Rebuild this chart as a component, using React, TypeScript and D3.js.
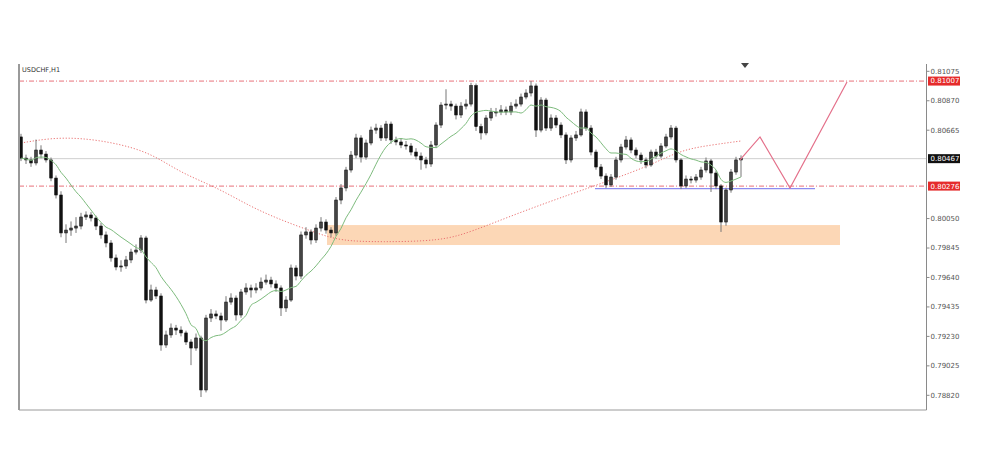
import React from "react";
import * as d3 from "d3";

// ---- data (prices) ----
const firstOpen = 0.80618;
const closes = [
  0.80471, 0.80458, 0.80437, 0.80527, 0.80499, 0.80458, 0.80332, 0.80214, 0.79950, 0.79970,
  0.79984, 0.79998, 0.80061, 0.80075, 0.80054, 0.79998, 0.79936, 0.79880, 0.79776, 0.79713,
  0.79720, 0.79762, 0.79817, 0.79831, 0.79915, 0.79483, 0.79553, 0.79511, 0.79170, 0.79240,
  0.79288, 0.79274, 0.79254, 0.79191, 0.79149, 0.79219, 0.78857, 0.79358, 0.79386, 0.79372,
  0.79344, 0.79469, 0.79497, 0.79379, 0.79539, 0.79567, 0.79553, 0.79567, 0.79608, 0.79622,
  0.79595, 0.79567, 0.79428, 0.79483, 0.79706, 0.79650, 0.79936, 0.79957, 0.79901, 0.79984,
  0.80026, 0.79970, 0.79950, 0.80179, 0.80263, 0.80388, 0.80492, 0.80611, 0.80478, 0.80576,
  0.80666, 0.80680, 0.80611, 0.80708, 0.80597, 0.80583, 0.80562, 0.80555, 0.80513, 0.80485,
  0.80458, 0.80430, 0.80562, 0.80701, 0.80840, 0.80847, 0.80833, 0.80771, 0.80833, 0.80847,
  0.80975, 0.80690, 0.80646, 0.80750, 0.80792, 0.80792, 0.80806, 0.80792, 0.80833, 0.80847,
  0.80896, 0.80924, 0.80973, 0.80666, 0.80875, 0.80680, 0.80750, 0.80701, 0.80632, 0.80458,
  0.80611, 0.80632, 0.80792, 0.80680, 0.80513, 0.80409, 0.80346, 0.80284, 0.80339, 0.80458,
  0.80548, 0.80597, 0.80527, 0.80492, 0.80458, 0.80423, 0.80513, 0.80485, 0.80555, 0.80618,
  0.80680, 0.80458, 0.80277, 0.80325, 0.80318, 0.80339, 0.80388, 0.80451, 0.80367, 0.80277,
  0.80026, 0.80249, 0.80374, 0.80458, 0.80467,
];
const highs = [
  0.80640, 0.80495, 0.80480, 0.80600, 0.80560, 0.80520, 0.80475, 0.80350, 0.80240, 0.80010,
  0.80030, 0.80060, 0.80090, 0.80100, 0.80095, 0.80070, 0.80020, 0.79960, 0.79900, 0.79800,
  0.79760, 0.79790, 0.79840, 0.79870, 0.79935, 0.79930, 0.79590, 0.79575, 0.79530, 0.79270,
  0.79320, 0.79310, 0.79300, 0.79270, 0.79210, 0.79250, 0.79235, 0.79380, 0.79420, 0.79410,
  0.79395, 0.79510, 0.79530, 0.79515, 0.79560, 0.79600, 0.79590, 0.79600, 0.79640, 0.79660,
  0.79645, 0.79620, 0.79585, 0.79510, 0.79730, 0.79725, 0.79960, 0.79990, 0.79975, 0.80010,
  0.80060, 0.80045, 0.79990, 0.80200, 0.80290, 0.80410, 0.80520, 0.80640, 0.80630, 0.80600,
  0.80690, 0.80710, 0.80700, 0.80730, 0.80725, 0.80620, 0.80610, 0.80590, 0.80575, 0.80540,
  0.80510, 0.80480, 0.80590, 0.80720, 0.80860, 0.80950, 0.80870, 0.80850, 0.80860, 0.80880,
  0.80995, 0.80990, 0.80710, 0.80770, 0.80820, 0.80820, 0.80840, 0.80830, 0.80860, 0.80880,
  0.80920, 0.80950, 0.81007, 0.80990, 0.80895, 0.80890, 0.80775, 0.80770, 0.80720, 0.80650,
  0.80630, 0.80660, 0.80815, 0.80810, 0.80700, 0.80530, 0.80430, 0.80365, 0.80360, 0.80480,
  0.80570, 0.80625, 0.80615, 0.80545, 0.80510, 0.80475, 0.80530, 0.80535, 0.80575, 0.80640,
  0.80701, 0.80695, 0.80470, 0.80350, 0.80345, 0.80360, 0.80410, 0.80475, 0.80465, 0.80385,
  0.80290, 0.80265, 0.80395, 0.80480, 0.80490,
];
const lows = [
  0.80450, 0.80430, 0.80410, 0.80420, 0.80470, 0.80440, 0.80310, 0.80190, 0.79920, 0.79880,
  0.79930, 0.79950, 0.79975, 0.80040, 0.80030, 0.79970, 0.79910, 0.79850, 0.79750, 0.79690,
  0.79680, 0.79700, 0.79740, 0.79800, 0.79810, 0.79460, 0.79470, 0.79490, 0.79130, 0.79150,
  0.79220, 0.79240, 0.79230, 0.79170, 0.79030, 0.79130, 0.78808, 0.78840, 0.79330, 0.79350,
  0.79270, 0.79330, 0.79450, 0.79340, 0.79360, 0.79520, 0.79500, 0.79530, 0.79550, 0.79590,
  0.79570, 0.79540, 0.79372, 0.79400, 0.79470, 0.79620, 0.79630, 0.79910, 0.79870, 0.79880,
  0.79960, 0.79945, 0.79920, 0.79930, 0.80150, 0.80240, 0.80370, 0.80470, 0.80440, 0.80460,
  0.80560, 0.80640, 0.80590, 0.80590, 0.80570, 0.80560, 0.80540, 0.80530, 0.80490, 0.80460,
  0.80390, 0.80400, 0.80410, 0.80540, 0.80680, 0.80810, 0.80800, 0.80740, 0.80750, 0.80810,
  0.80830, 0.80660, 0.80600, 0.80630, 0.80730, 0.80760, 0.80770, 0.80770, 0.80770, 0.80815,
  0.80830, 0.80880, 0.80900, 0.80618, 0.80650, 0.80660, 0.80660, 0.80680, 0.80610, 0.80430,
  0.80440, 0.80590, 0.80620, 0.80660, 0.80490, 0.80390, 0.80325, 0.80262, 0.80270, 0.80320,
  0.80440, 0.80530, 0.80505, 0.80470, 0.80430, 0.80400, 0.80410, 0.80465, 0.80470, 0.80540,
  0.80600, 0.80440, 0.80255, 0.80262, 0.80295, 0.80300, 0.80320, 0.80370, 0.80235, 0.80255,
  0.79957, 0.80000, 0.80230, 0.80355, 0.80340,
];

// long moving average (red dotted), read at sample bars
const slowMaIndex = [0, 6, 12, 19, 26, 32, 39, 46, 52, 59, 64, 72, 84, 90, 100, 110, 118, 126, 132, 138, 144];
const slowMaValue = [
  0.80576, 0.80611, 0.80611, 0.80576, 0.80506, 0.80367, 0.80270, 0.80131, 0.80040, 0.79950,
  0.79894, 0.79887, 0.79894, 0.79957, 0.80096, 0.80221, 0.80318, 0.80423, 0.80527, 0.80562, 0.80590,
];

const fastPeriod = 10;

// axis
const tickValues = [0.81075, 0.8087, 0.80665, 0.8005, 0.79845, 0.7964, 0.79435, 0.7923, 0.79025, 0.7882];
const redLevels = [0.81007, 0.80276];
const currentPrice = 0.80467;

// annotations
const zoneX = [61.2, 163.8];
const zoneY = [0.80005, 0.79866];
const supportX = [114.8, 158.8];
const supportY = 0.80258;
const pathIndex = [143.8, 147.8, 153.8, 165.2];
const pathPrice = [0.80458, 0.80618, 0.80263, 0.81001];

const symbolLabel = "USDCHF,H1";

export default function App() {
  const W = 1000;
  const H = 472;
  const plotLeft = 19;
  const axisX = 926.5;
  const plotTop = 64;
  const plotBottom = 410;

  const x = d3.scaleLinear().domain([0, 181]).range([21, 926]);
  const y = d3.scaleLinear().domain([0.7882, 0.81075]).range([395.3, 71.3]);

  const opens = closes.map((c, i) => (i === 0 ? firstOpen : closes[i - 1]));

  const fast = closes.map((_, i) => {
    const s = Math.max(0, i - fastPeriod + 1);
    return d3.mean(closes.slice(s, i + 1)) as number;
  });
  const fastLine = d3
    .line<number>()
    .x((_, i) => x(i))
    .y((d) => y(d))
    .curve(d3.curveMonotoneX)(fast) as string;

  const slowLine = d3
    .line<number>()
    .x((d) => x(d))
    .y((_, i) => y(slowMaValue[i]))
    .curve(d3.curveBasis)(slowMaIndex) as string;

  const zig = d3
    .line<number>()
    .x((d) => x(d))
    .y((_, i) => y(pathPrice[i]))(pathIndex) as string;

  const font = "'DejaVu Sans', 'Liberation Sans', sans-serif";
  const bw = 2.6;

  return (
    <svg
      width={W}
      height={H}
      style={{ position: "absolute", left: 0, top: 0, background: "#fff" }}
      xmlns="http://www.w3.org/2000/svg"
    >
      <rect x={0} y={0} width={W} height={H} fill="#fff" />
      {/* zone */}
      <rect
        x={x(zoneX[0])}
        y={y(zoneY[0])}
        width={x(zoneX[1]) - x(zoneX[0])}
        height={y(zoneY[1]) - y(zoneY[0])}
        fill="#fcd3ae"
        opacity={0.9}
      />
      {/* horizontal levels */}
      {redLevels.map((v) => (
        <line
          key={v}
          x1={plotLeft}
          x2={axisX}
          y1={y(v)}
          y2={y(v)}
          stroke="#e8707a"
          strokeWidth={1}
          strokeDasharray="5,2,1,2"
        />
      ))}
      <line x1={plotLeft} x2={axisX} y1={y(currentPrice)} y2={y(currentPrice)} stroke="#cfcfcf" strokeWidth={1} />
      <line
        x1={x(supportX[0])}
        x2={x(supportX[1])}
        y1={y(supportY)}
        y2={y(supportY)}
        stroke="#8c8cf0"
        strokeWidth={1.2}
      />
      {/* slow MA */}
      <path d={slowLine} fill="none" stroke="#ea7272" strokeWidth={1} strokeDasharray="1.2,1.8" />
      {/* candles */}
      {closes.map((c, i) => {
        const o = opens[i];
        const bull = c >= o;
        const top = y(Math.max(o, c));
        const bot = y(Math.min(o, c));
        const cx = x(i);
        return (
          <g key={i}>
            <line x1={cx} x2={cx} y1={y(highs[i])} y2={y(lows[i])} stroke="#777" strokeWidth={1} />
            <rect
              x={cx - bw / 2}
              y={top}
              width={bw}
              height={Math.max(1, bot - top)}
              fill={bull ? "#444" : "#111"}
              stroke="#111"
              strokeWidth={0.6}
            />
          </g>
        );
      })}
      {/* fast MA */}
      <path d={fastLine} fill="none" stroke="#7dbb7d" strokeWidth={1} />
      {/* projection */}
      <path d={zig} fill="none" stroke="#e4708a" strokeWidth={1.2} />
      {/* frame */}
      <line x1={plotLeft} x2={plotLeft} y1={plotTop} y2={plotBottom} stroke="#9a9a9a" strokeWidth={2} />
      <line x1={plotLeft} x2={axisX} y1={plotBottom} y2={plotBottom} stroke="#9a9a9a" strokeWidth={1} />
      <line x1={axisX} x2={axisX} y1={plotTop} y2={plotBottom} stroke="#8a8a8a" strokeWidth={1} />
      {/* small marker */}
      <path d="M741,63 L749,63 L745,68 Z" fill="#444" />
      <text x={22} y={72} fontSize={6.5} fontFamily={font} fill="#333">
        {symbolLabel}
      </text>
      {/* axis ticks */}
      {tickValues.map((v) => (
        <g key={v}>
          <line x1={axisX} x2={axisX + 3} y1={y(v)} y2={y(v)} stroke="#8a8a8a" />
          <text x={axisX + 4} y={y(v) + 2.4} fontSize={7} fontFamily={font} fill="#555">
            {v.toFixed(5)}
          </text>
        </g>
      ))}
      {redLevels.map((v) => (
        <g key={"l" + v}>
          <rect x={axisX + 1.5} y={y(v) - 4.5} width={32} height={9} fill="#e52b2b" />
          <text x={axisX + 4} y={y(v) + 2.4} fontSize={7} fontFamily={font} fill="#fff">
            {v.toFixed(5)}
          </text>
        </g>
      ))}
      <rect x={axisX + 1.5} y={y(currentPrice) - 4.5} width={32} height={9} fill="#111" />
      <text x={axisX + 4} y={y(currentPrice) + 2.4} fontSize={7} fontFamily={font} fill="#fff">
        {currentPrice.toFixed(5)}
      </text>
    </svg>
  );
}
